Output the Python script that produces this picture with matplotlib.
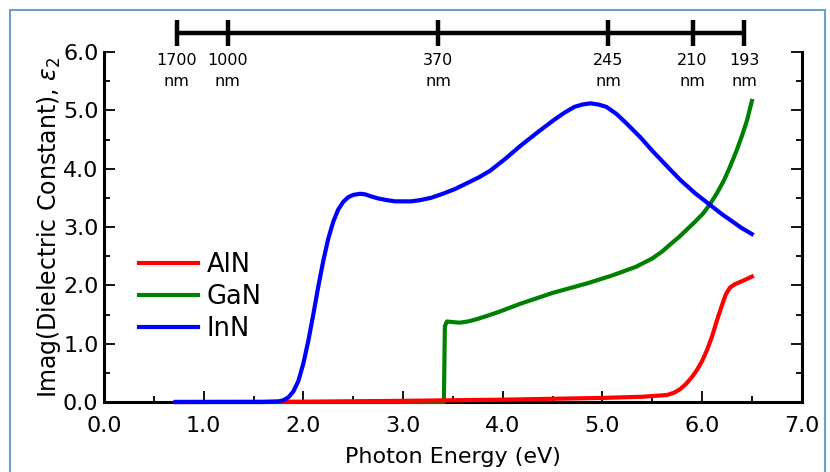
import numpy as np
import matplotlib.pyplot as plt
from matplotlib.patches import Rectangle
from matplotlib.ticker import MultipleLocator

plt.rcParams['font.family'] = ['DejaVu Sans']

# Data (eV, epsilon_2)
inn_e = [0.72, 1.2, 1.6, 1.75, 1.80, 1.85, 1.90, 1.95, 2.00, 2.05, 2.10, 2.15, 2.20,
         2.25, 2.30, 2.35, 2.40, 2.45, 2.50, 2.57, 2.62, 2.67, 2.75, 2.84, 2.92,
         3.00, 3.08, 3.17, 3.28, 3.40, 3.52, 3.64, 3.76, 3.87, 4.02, 4.17, 4.34,
         4.51, 4.62, 4.72, 4.80, 4.88, 4.96, 5.04, 5.14, 5.24, 5.38, 5.51, 5.65,
         5.78, 5.93, 6.08, 6.20, 6.30, 6.40, 6.50]
inn_v = [0.0, 0.0, 0.0, 0.01, 0.03, 0.08, 0.18, 0.36, 0.66, 1.05, 1.50, 1.98, 2.42,
         2.80, 3.09, 3.30, 3.43, 3.51, 3.55, 3.57, 3.56, 3.53, 3.49, 3.46, 3.44,
         3.44, 3.44, 3.46, 3.50, 3.57, 3.65, 3.75, 3.85, 3.96, 4.16, 4.38, 4.61,
         4.83, 4.96, 5.06, 5.10, 5.12, 5.10, 5.06, 4.94, 4.78, 4.54, 4.29, 4.04,
         3.81, 3.58, 3.38, 3.22, 3.10, 2.98, 2.88]

gan_e = [0.72, 3.41, 3.42, 3.44, 3.50, 3.57, 3.65, 3.74, 3.85, 3.97, 4.17, 4.50,
         4.84, 5.10, 5.34, 5.50, 5.60, 5.68, 5.77, 5.85, 5.93, 6.01, 6.08, 6.15,
         6.22, 6.28, 6.34, 6.40, 6.45, 6.50]
gan_v = [0.0, 0.0, 1.30, 1.38, 1.37, 1.36, 1.38, 1.42, 1.48, 1.55, 1.68, 1.87,
         2.03, 2.17, 2.32, 2.46, 2.58, 2.70, 2.83, 2.96, 3.09, 3.23, 3.39, 3.58,
         3.80, 4.03, 4.28, 4.56, 4.82, 5.16]

aln_e = [0.72, 2.0, 3.0, 4.0, 5.0, 5.4, 5.65, 5.72, 5.78, 5.84, 5.90, 5.95, 6.00,
         6.05, 6.10, 6.15, 6.20, 6.24, 6.28, 6.33, 6.40, 6.50]
aln_v = [0.0, 0.005, 0.02, 0.04, 0.07, 0.09, 0.12, 0.16, 0.22, 0.31, 0.43, 0.55, 0.70,
         0.89, 1.12, 1.40, 1.66, 1.85, 1.96, 2.02, 2.07, 2.15]

# wavelength markers on the top bar
wl_nm = [1700, 1000, 370, 245, 210, 193]

fig = plt.figure(figsize=(8.3, 4.72), dpi=100)
ax = fig.add_axes([0.1253, 0.1483, 0.8406, 0.7415])

l_gan, = ax.plot(gan_e, gan_v, c='#008000', lw=3, label='GaN', zorder=3, clip_on=False)
l_aln, = ax.plot(aln_e, aln_v, c='#ff0000', lw=3, label='AlN', zorder=3, clip_on=False)
l_inn, = ax.plot(inn_e, inn_v, c='#0000ff', lw=3, label='InN', zorder=3, clip_on=False)

ax.set_xlim(0, 7)
ax.set_ylim(0, 6)
ax.xaxis.set_major_locator(MultipleLocator(1))
ax.xaxis.set_minor_locator(MultipleLocator(0.5))
ax.yaxis.set_major_locator(MultipleLocator(1))
ax.yaxis.set_minor_locator(MultipleLocator(0.5))
ax.xaxis.set_major_formatter(lambda v, p: f'{v:.1f}')
ax.yaxis.set_major_formatter(lambda v, p: f'{v:.1f}')

ax.spines['top'].set_visible(False)
for s in ['left', 'right', 'bottom']:
    ax.spines[s].set_linewidth(2.2)
ax.tick_params(which='both', direction='in', right=True, top=False, width=1.3, colors='black')
ax.tick_params(which='major', length=8, labelsize=16)
ax.tick_params(which='minor', length=4)
ax.tick_params(axis='x', which='major', pad=10)
ax.tick_params(axis='y', which='major', pad=4)

ax.set_xlabel('Photon Energy (eV)', fontsize=16, labelpad=8)
ax.set_ylabel('Imag(Dielectric Constant), $\\varepsilon_2$', fontsize=17, labelpad=0)

ax.legend(handles=[l_aln, l_gan, l_inn], loc='center left', bbox_to_anchor=(0.05, 0.30),
          frameon=False, fontsize=18.5, handlelength=2.3, handletextpad=0.35,
          labelspacing=0.25, borderaxespad=0, borderpad=0)

# wavelength scale bar above the plot
trans = ax.get_xaxis_transform()
wl_e = [1240.0 / w for w in wl_nm]
ax.plot([min(wl_e), max(wl_e)], [1.054, 1.054], c='black', lw=3.2, transform=trans,
        clip_on=False, solid_capstyle='butt')
for e, w in zip(wl_e, wl_nm):
    ax.plot([e, e], [1.017, 1.091], c='black', lw=3.2, transform=trans, clip_on=False,
            solid_capstyle='butt')
    ax.text(e, 0.998, f'{w}\nnm', transform=trans, ha='center', va='top',
            fontsize=11.5, linespacing=1.5)

# light blue frame round the figure
fig.patches.append(Rectangle((10 / 830, -0.1), 815 / 830, 1.0788, transform=fig.transFigure,
                             fill=False, ec='#6f9fc3', lw=1.5, clip_on=False))

plt.savefig('out.png', dpi=100)
